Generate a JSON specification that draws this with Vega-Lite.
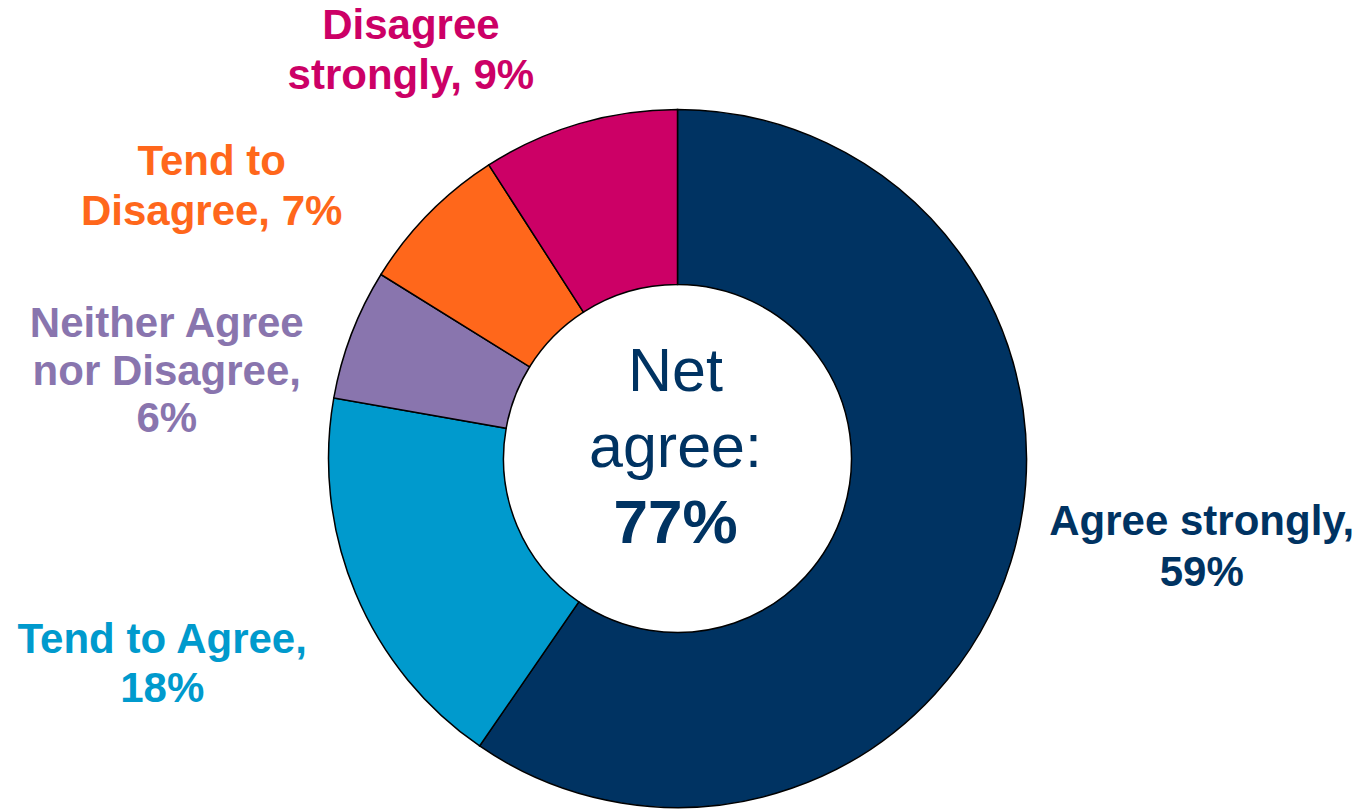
{
  "$schema": "https://vega.github.io/schema/vega-lite/v6.json",
  "width": 1355,
  "height": 701,
  "autosize": {"type": "none"},
  "padding": {"left": 0, "top": 108, "right": 7, "bottom": 0},
  "background": "white",
  "config": {"view": {"stroke": null}, "font": "Liberation Sans"},
  "datasets": {
    "resp": [
      {"n": 1, "category": "Agree strongly", "pct": 59, "label": "Agree strongly,\n59%"},
      {"n": 2, "category": "Tend to Agree", "pct": 18, "label": "Tend to Agree,\n18%"},
      {"n": 3, "category": "Neither Agree nor Disagree", "pct": 6, "label": "Neither Agree\nnor Disagree,\n6%"},
      {"n": 4, "category": "Tend to Disagree", "pct": 7, "label": "Tend to\nDisagree, 7%"},
      {"n": 5, "category": "Disagree strongly", "pct": 9, "label": "Disagree\nstrongly, 9%"}
    ],
    "center": [{"head": "Net\nagree:", "net": "77%"}]
  },
  "layer": [
    {
      "data": {"name": "resp"},
      "encoding": {
        "theta": {"field": "pct", "type": "quantitative", "stack": true},
        "order": {"field": "n", "type": "quantitative"},
        "color": {
          "field": "category",
          "type": "nominal",
          "legend": null,
          "scale": {
            "domain": ["Agree strongly", "Tend to Agree", "Neither Agree nor Disagree", "Tend to Disagree", "Disagree strongly"],
            "range": ["#003362", "#009ACD", "#8975AE", "#FF671B", "#CC0066"]
          }
        }
      },
      "layer": [
        {"mark": {"type": "arc", "outerRadius": 349, "innerRadius": 174, "stroke": "#000000", "strokeWidth": 1.5}},
        {
          "mark": {"type": "text", "radius": 460, "dx": 85, "dy": -60, "fontSize": 42, "fontWeight": "bold", "lineBreak": "\n", "lineHeight": 51, "align": "center", "baseline": "alphabetic"},
          "encoding": {"text": {"condition": {"test": "datum.category === 'Agree strongly'", "field": "label"}, "value": ""}}
        },
        {
          "mark": {"type": "text", "radius": 460, "dx": -91, "dy": 17, "fontSize": 42, "fontWeight": "bold", "lineBreak": "\n", "lineHeight": 49, "align": "center", "baseline": "alphabetic"},
          "encoding": {"text": {"condition": {"test": "datum.category === 'Tend to Agree'", "field": "label"}, "value": ""}}
        },
        {
          "mark": {"type": "text", "radius": 460, "dx": -81, "dy": 43, "fontSize": 42, "fontWeight": "bold", "lineBreak": "\n", "lineHeight": 47.5, "align": "center", "baseline": "alphabetic"},
          "encoding": {"text": {"condition": {"test": "datum.category === 'Neither Agree nor Disagree'", "field": "label"}, "value": ""}}
        },
        {
          "mark": {"type": "text", "radius": 460, "dx": -138, "dy": 39, "fontSize": 42, "fontWeight": "bold", "lineBreak": "\n", "lineHeight": 50, "align": "center", "baseline": "alphabetic"},
          "encoding": {"text": {"condition": {"test": "datum.category === 'Tend to Disagree'", "field": "label"}, "value": ""}}
        },
        {
          "mark": {"type": "text", "radius": 460, "dx": -137, "dy": 22, "fontSize": 42, "fontWeight": "bold", "lineBreak": "\n", "lineHeight": 50, "align": "center", "baseline": "alphabetic"},
          "encoding": {"text": {"condition": {"test": "datum.category === 'Disagree strongly'", "field": "label"}, "value": ""}}
        }
      ]
    },
    {
      "data": {"name": "center"},
      "layer": [
        {
          "mark": {"type": "text", "fontSize": 61, "fill": "#003362", "lineBreak": "\n", "lineHeight": 76, "align": "center", "baseline": "alphabetic", "dx": -2, "dy": -67.5},
          "encoding": {"text": {"field": "head", "type": "nominal"}}
        },
        {
          "mark": {"type": "text", "fontSize": 62, "fontWeight": "bold", "fill": "#003362", "align": "center", "baseline": "alphabetic", "dx": -2, "dy": 84.5},
          "encoding": {"text": {"field": "net", "type": "nominal"}}
        }
      ]
    }
  ]
}
